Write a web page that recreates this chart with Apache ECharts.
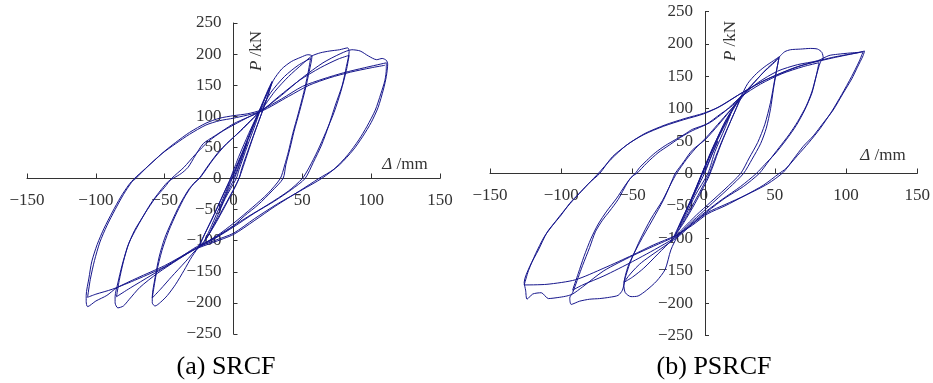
<!DOCTYPE html>
<html>
<head>
<meta charset="utf-8">
<script src="https://cdn.jsdelivr.net/npm/echarts/dist/echarts.min.js"></script>
<style>
  html, body { margin: 0; padding: 0; background: #fff; }
  #chart { width: 933px; height: 383px; }
</style>
</head>
<body>
<div id="chart"></div>
<script>
// 刻度
const xTicks = [-150, -100, -50, 0, 50, 100, 150]
const yTicks = [-250, -200, -150, -100, -50, 0, 50, 100, 150, 200, 250]
const panelTitles = ['(a) SRCF', '(b) PSRCF']

// (a) SRCF  [Δ/mm, P/kN]
const srcfElastic = [[0,0],[5,28],[10,58],[6,32],[1,2],[-5,-25],[-10,-50],[-6,-28],[-1,0],
  [6,38],[12,70],[17,98],[20,114],[16,88],[10,52],[4,14],[2,0],[-6,-32],[-12,-62],[-18,-90],[-21,-100],[-16,-76],[-9,-40],[-3,-8],[0,6],
  [7,44],[14,84],[20,116],[25,142],[28,156],[25,134],[19,96],[12,54],[6,16],[4,0],[-5,-38],[-13,-70],[-20,-98],[-25,-110],[-21,-90],[-14,-58],[-7,-24],[-2,0],
  [6,40],[13,78],[19,108],[24,135],[27,150],[28,154],[23,120],[16,78],[9,32],[5,6],[2,-10],[-6,-44],[-14,-76],[-21,-100],[-26,-112],[-22,-94],[-15,-62],[-8,-28],[-3,-4]]
const srcfLoop57 = [[-3,-4],[4,36],[11,72],[19,110],[24,134],[29,158],[35,176],[42,188],[49,195],[54,199],[57,197],
  [55,172],[52,142],[48,108],[44,76],[41,48],[38,22],[36,0],[28,-20],[18,-42],[8,-60],[0,-76],[-12,-94],[-24,-108],[-30,-125],[-36,-148],[-42,-170],[-48,-188],[-53,-199],[-57,-205],[-59,-200],[-59,-190],
  [-57,-160],[-54,-126],[-50,-96],[-45,-70],[-39,-42],[-32,-16],[-25,0],[-18,22],[-10,45],[0,66],[10,88],[19,108],[27,138],[37,164],[47,182],[56,193],
  [54,168],[51,138],[47,104],[43,72],[40,44],[37,20],[34,0],[25,-24],[14,-46],[0,-72],[-12,-92],[-25,-110],[-35,-134],[-45,-158],[-53,-178],[-59,-192],
  [-56,-152],[-52,-116],[-47,-84],[-41,-54],[-35,-28],[-29,-8],[-24,2],[-15,30],[-5,56],[5,76],[14,96],[21,112]]
const srcfLoop84 = [[21,112],[30,140],[40,164],[50,184],[57,197],[63,202],[70,205],[77,207],[83,210],[84,204],
  [82,180],[79,150],[74,118],[69,84],[64,54],[58,26],[52,0],[42,-18],[30,-36],[15,-56],[0,-78],[-14,-97],[-27,-112],[-40,-130],[-55,-152],[-68,-175],[-76,-195],[-80,-205],[-84,-208],[-86,-200],[-86,-190],
  [-84,-168],[-81,-140],[-77,-110],[-72,-84],[-66,-62],[-60,-40],[-54,-22],[-48,-6],[-44,0],[-38,8],[-33,18],[-28,36],[-22,56],[-14,68],[-7,78],[0,88],[10,98],[20,108],[33,132],[48,158],[63,178],[76,192],[84,198],
  [82,174],[78,140],[73,106],[67,74],[61,44],[55,18],[50,0],[40,-20],[25,-42],[10,-62],[0,-76],[-15,-97],[-27,-110],[-45,-136],[-60,-156],[-75,-176],[-85,-190],
  [-83,-164],[-80,-134],[-76,-104],[-70,-78],[-64,-55],[-57,-32],[-50,-14],[-45,0],[-36,18],[-28,38],[-18,60],[-8,76],[0,86],[12,100],[20,108]]
const srcfLoop110 = [[20,108],[35,134],[50,162],[65,186],[78,201],[86,207],[92,205],[98,197],[104,191],[108,193],[111,190],[112,184],
  [111,164],[109,144],[105,114],[100,90],[94,68],[87,46],[77,22],[64,0],[50,-18],[31,-42],[15,-65],[0,-88],[-14,-100],[-27,-112],[-50,-140],[-70,-160],[-85,-176],[-92,-188],[-100,-197],[-106,-206],[-107,-198],[-107,-188],
  [-105,-160],[-103,-134],[-99,-106],[-94,-80],[-88,-54],[-82,-30],[-76,-10],[-72,0],[-64,16],[-56,32],[-50,44],[-42,58],[-32,74],[-20,89],[-10,97],[0,101],[10,104],[20,110],[35,128],[50,148],[65,160],[80,170],[95,178],[111,186],
  [111,176],[110,158],[107,136],[103,110],[97,84],[91,62],[83,38],[73,15],[62,0],[48,-20],[30,-45],[15,-68],[0,-90],[-15,-103],[-28,-114],[-50,-142],[-70,-162],[-88,-178],[-100,-186],[-106,-191],
  [-104,-162],[-101,-132],[-97,-102],[-92,-76],[-86,-50],[-80,-26],[-74,-6],[-71,0],[-62,20],[-52,40],[-42,56],[-32,71],[-20,86],[-10,93],[0,97],[20,108],[40,132],[55,150],[70,162],[85,171],[100,178],[110,182]]

// (b) PSRCF
const psrcfElastic = [[0,0],[5,25],[10,50],[6,30],[1,2],[-5,-25],[-10,-48],[-6,-28],[-1,0],
  [6,36],[13,68],[19,92],[15,70],[8,34],[3,0],[-6,-34],[-12,-62],[-17,-82],[-12,-58],[-5,-22],[0,4],
  [7,42],[15,80],[21,102],[26,118],[22,96],[14,56],[7,18],[4,0],[-5,-38],[-12,-66],[-18,-88],[-21,-98],[-16,-74],[-8,-36],[-2,-4],
  [6,38],[14,74],[20,98],[25,116],[27,120],[20,86],[12,44],[6,8],[3,-8],[-6,-46],[-14,-76],[-20,-96],[-17,-80],[-10,-46],[-3,-10]]
const psrcfLoop53 = [[-3,-10],[5,30],[12,62],[20,96],[26,118],[31,139],[37,154],[43,165],[49,174],[53,180],
  [51,156],[49,130],[47,100],[44,70],[40,46],[34,22],[28,0],[18,-22],[8,-42],[0,-58],[-10,-78],[-18,-96],[-23,-118],[-27,-148],[-33,-166],[-40,-180],[-46,-189],[-51,-190],[-55,-184],[-56,-172],
  [-53,-143],[-45,-107],[-36,-72],[-28,-40],[-22,-10],[-20,0],[-14,18],[-8,36],[1,52],[10,74],[19,98],[26,118],[36,142],[45,163],[53,179],
  [50,146],[47,110],[43,76],[38,48],[32,24],[26,0],[15,-24],[5,-44],[-5,-64],[-15,-86],[-22,-102],[-32,-124],[-42,-146],[-50,-160],[-56,-168],
  [-52,-140],[-45,-104],[-37,-70],[-29,-42],[-23,-16],[-19,0],[-12,22],[-6,38],[2,56],[10,76],[18,96],[25,112]]
const psrcfLoop80 = [[25,112],[33,134],[42,156],[50,172],[54,182],[57,188],[61,191],[68,192],[75,193],[80,192],[83,187],[84,178],[82,172],
  [79,150],[76,126],[72,104],[66,80],[60,60],[53,40],[46,20],[39,0],[28,-20],[15,-38],[3,-58],[-8,-78],[-17,-96],[-30,-116],[-45,-140],[-55,-165],[-57,-180],[-60,-188],[-66,-191],[-73,-193],[-80,-194],[-87,-197],[-93,-202],[-94,-192],[-92,-184],
  [-88,-160],[-85,-142],[-80,-114],[-76,-90],[-71,-72],[-66,-58],[-60,-40],[-56,-24],[-52,-9],[-48,0],[-45,9],[-40,20],[-34,32],[-27,43],[-20,52],[-13,61],[-8,68],[4,78],[15,96],[26,118],[40,138],[55,154],[70,165],[81,171],
  [79,150],[76,124],[71,98],[65,74],[58,52],[50,30],[43,14],[37,0],[26,-20],[13,-40],[2,-58],[-9,-78],[-18,-96],[-30,-112],[-50,-136],[-70,-158],[-85,-172],[-92,-180],
  [-88,-154],[-84,-128],[-79,-100],[-74,-78],[-68,-58],[-61,-38],[-55,-18],[-50,-4],[-47,0],[-40,16],[-32,32],[-24,44],[-16,56],[-8,66],[2,76],[12,92],[20,104]]
const psrcfLoop112 = [[20,104],[26,118],[38,140],[52,158],[66,168],[80,174],[88,182],[94,184],[103,186],[109,187],[113,189],[112,182],
  [108,164],[104,146],[98,124],[91,98],[84,78],[77,58],[70,42],[63,22],[56,2],[45,-16],[30,-33],[15,-48],[3,-60],[-8,-78],[-20,-97],[-35,-112],[-50,-127],[-70,-150],[-85,-175],[-92,-186],[-96,-189],[-101,-191],[-109,-193],[-114,-184],[-120,-186],[-124,-194],[-125,-180],[-126,-168],
  [-122,-143],[-116,-118],[-110,-91],[-104,-74],[-99,-60],[-92,-42],[-86,-28],[-80,-14],[-73,0],[-64,26],[-52,47],[-41,62],[-27,75],[-13,85],[0,93],[10,102],[25,122],[43,144],[66,165],[90,178],[112,188],
  [109,172],[104,150],[97,122],[90,96],[82,70],[74,48],[66,28],[58,8],[53,0],[42,-18],[29,-34],[15,-50],[3,-62],[-8,-80],[-20,-96],[-35,-110],[-50,-126],[-70,-146],[-90,-164],[-110,-171],[-126,-172],
  [-123,-150],[-118,-124],[-112,-98],[-106,-80],[-100,-64],[-94,-46],[-88,-32],[-81,-16],[-74,0],[-65,22],[-54,44],[-42,60],[-28,73],[-14,83],[0,92],[12,104],[28,126],[45,146],[68,166],[90,179],[110,187]]

const srcfLoops = [srcfElastic, srcfLoop57, srcfLoop84, srcfLoop110]
const psrcfLoops = [psrcfElastic, psrcfLoop53, psrcfLoop80, psrcfLoop112]

const FONT = '"Liberation Serif", "Times New Roman", serif'
const INK = '#333'
const LINE = '#16168c'

// 两个坐标区，轴线画在零点处
const grids = [
  { left: 27, top: 23, width: 413, height: 311 },
  { left: 490, top: 11.5, width: 430, height: 324 }
]

const minus = v => String(v).replace('-', '\u2212')

const makeX = idx => {
  const g = grids[idx]
  return {
    type: 'value', gridIndex: idx, min: xTicks[0], max: xTicks[xTicks.length - 1], interval: 50,
    offset: -g.height / 2,
    splitLine: { show: false },
    axisLine: { onZero: false, lineStyle: { color: INK, width: 1 } },
    axisTick: { inside: true, length: 5, lineStyle: { color: INK } },
    axisLabel: { margin: 14, color: INK, fontFamily: FONT, fontSize: 17, formatter: minus }
  }
}
const makeY = idx => {
  const g = grids[idx]
  return {
    type: 'value', gridIndex: idx, min: yTicks[0], max: yTicks[yTicks.length - 1], interval: 50,
    offset: -g.width / 2,
    splitLine: { show: false },
    axisLine: { onZero: false, lineStyle: { color: INK, width: 1 } },
    axisTick: { inside: true, length: 4, lineStyle: { color: INK } },
    axisLabel: { margin: 12, color: INK, fontFamily: FONT, fontSize: 17, formatter: minus }
  }
}

const loopSeries = (loops, idx) => loops.map(d => ({
  type: 'line', xAxisIndex: idx, yAxisIndex: idx, data: d,
  showSymbol: false, smooth: 0.25, silent: true,
  lineStyle: { color: LINE, width: 1 }
}))

const label = (x, y, text, rotation) => ({
  type: 'text', x: x, y: y, rotation: rotation || 0, silent: true,
  style: {
    text: text, fill: INK, font: '17px ' + FONT, align: 'center', verticalAlign: 'middle',
    rich: { i: { fontStyle: 'italic', fontFamily: FONT, fontSize: 17, fill: INK } }
  }
})

const chart = echarts.init(document.getElementById('chart'))
chart.setOption({
  animation: false,
  backgroundColor: '#fff',
  grid: grids,
  xAxis: [makeX(0), makeX(1)],
  yAxis: [makeY(0), makeY(1)],
  series: loopSeries(srcfLoops, 0).concat(loopSeries(psrcfLoops, 1)),
  graphic: [
    label(257, 51, '{i|P} /kN', Math.PI / 2),
    label(731, 41, '{i|P} /kN', Math.PI / 2),
    label(405, 165, '{i|Δ} /mm'),
    label(883, 156, '{i|Δ} /mm'),
    {
      type: 'text', x: 226, y: 367, silent: true,
      style: { text: panelTitles[0], fill: '#000', font: '26px ' + FONT, align: 'center', verticalAlign: 'middle' }
    },
    {
      type: 'text', x: 714, y: 367, silent: true,
      style: { text: panelTitles[1], fill: '#000', font: '26px ' + FONT, align: 'center', verticalAlign: 'middle' }
    }
  ]
})
</script>
</body>
</html>
